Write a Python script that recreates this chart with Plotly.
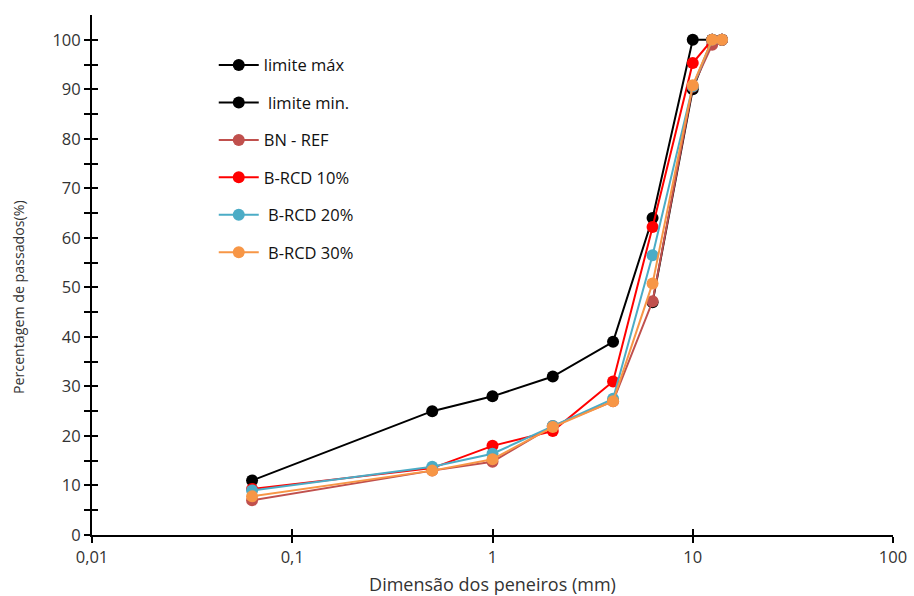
import plotly.graph_objects as go

sizes = [0.063, 0.5, 1, 2, 4, 6.3, 10, 12.5, 14]
lim_max = [11, 25, 28, 32, 39, 64, 100, 100, 100]
lim_min_sizes = [6.3, 10, 12.5, 14]
lim_min = [47, 90, 100, 100]
bn_ref = [7, 13, 14.8, 22, 27, 47.2, 90.5, 99, 100]
rcd10 = [9.3, 13.5, 18, 21, 31, 62.2, 95.3, 100, 100]
rcd20 = [9, 13.8, 16.4, 22, 27.5, 56.5, 90.6, 100, 100]
rcd30 = [7.8, 13, 15.3, 21.8, 27, 50.8, 90.8, 100, 100]

series = [
    ("limite máx", sizes, lim_max, "#000000"),
    ("\u00a0limite min.", lim_min_sizes, lim_min, "#000000"),
    ("BN - REF", sizes, bn_ref, "#C0504D"),
    ("B-RCD 10%", sizes, rcd10, "#FF0000"),
    ("\u00a0B-RCD 20%", sizes, rcd20, "#4BACC6"),
    ("\u00a0B-RCD 30%", sizes, rcd30, "#F79646"),
]

x_tickvals = [0.01, 0.1, 1, 10, 100]
x_ticktext = ["0,01", "0,1", "1", "10", "100"]
y_tickvals = list(range(0, 105, 5))
y_ticktext = [str(v) if v % 10 == 0 else "" for v in y_tickvals]

FONT = "Open Sans"

fig = go.Figure()
for i, (name, xs, ys, col) in enumerate(series):
    fig.add_trace(go.Scatter(
        x=xs, y=ys, name=name, mode="lines+markers",
        line=dict(color=col, width=2),
        marker=dict(color=col, size=12),
        legendgroup=f"g{i}",
    ))

# dummy trace to activate the overlaid axes (inside half of crossing ticks)
fig.add_trace(go.Scatter(x=[None], y=[None], xaxis="x2", yaxis="y2",
                         showlegend=False, hoverinfo="skip"))

axis_common = dict(showgrid=False, zeroline=False, showline=True,
                   linecolor="black", linewidth=2, tickcolor="black",
                   tickwidth=2, ticklen=6, automargin=False)

fig.update_layout(
    width=914, height=596,
    margin=dict(l=92, r=21, t=15, b=61),
    paper_bgcolor="white", plot_bgcolor="white",
    font=dict(family=FONT, size=16, color="#333"),
    xaxis=dict(type="log", range=[-2, 2], tickvals=x_tickvals, ticktext=x_ticktext,
               ticks="outside", tickfont=dict(size=16.5),
               title=dict(text="Dimensão dos peneiros (mm)", font=dict(size=18), standoff=15),
               **axis_common),
    yaxis=dict(range=[0, 105], tickvals=y_tickvals, ticktext=y_ticktext,
               ticks="outside", tickfont=dict(size=16.5),
               **axis_common),
    xaxis2=dict(type="log", range=[-2, 2], tickvals=x_tickvals, showticklabels=False,
                ticks="inside", overlaying="x", anchor="y2", side="bottom",
                **axis_common),
    yaxis2=dict(range=[0, 105], tickvals=y_tickvals, showticklabels=False,
                ticks="inside", overlaying="y", anchor="x2", side="left",
                **axis_common),
    legend=dict(x=0.152, y=0.937, xanchor="left", yanchor="top",
                bgcolor="rgba(0,0,0,0)", font=dict(size=16.5, color="#111"),
                tracegroupgap=13, itemwidth=40),
    showlegend=True,
    annotations=[dict(
        text="Percentagem de passados(%)", textangle=-90,
        xref="paper", yref="paper", x=-0.091, y=0.458,
        xanchor="center", yanchor="middle", showarrow=False,
        font=dict(size=14.2, color="#333"),
    )],
)

fig.write_html("out.html")
